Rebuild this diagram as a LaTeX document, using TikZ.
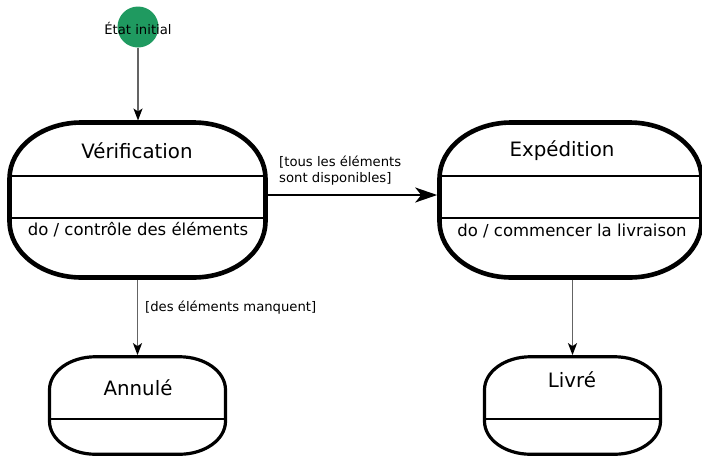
\documentclass[tikz,border=0pt]{standalone}
\usepackage{fontspec}
\setmainfont{DejaVu Sans}
\usetikzlibrary{arrows.meta}
\definecolor{initgreen}{RGB}{31,154,96}
\definecolor{flowgray}{RGB}{100,100,100}
% Border of a state: rectangle with elliptical corners (x radius #2, y radius #3)
\newcommand\stateborder[4]{%
  \draw[#4] ([xshift=#2]#1.north west) -- ([xshift=-#2]#1.north east)
    arc[start angle=90, end angle=0, x radius=#2, y radius=#3]
    -- ([yshift=#3]#1.south east)
    arc[start angle=0, end angle=-90, x radius=#2, y radius=#3]
    -- ([xshift=#2]#1.south west)
    arc[start angle=-90, end angle=-180, x radius=#2, y radius=#3]
    -- ([yshift=-#3]#1.north west)
    arc[start angle=180, end angle=90, x radius=#2, y radius=#3]
    -- cycle;}
\begin{document}
\begin{tikzpicture}[x=1pt,y=-1pt,
  statebox/.style={outer sep=0pt, inner sep=0pt},
  bigline/.style={line width=4.6pt},
  smallline/.style={line width=3.2pt},
  sep/.style={line width=1.5pt},
  title/.style={font=\fontsize{19.8}{23}\selectfont},
  activity/.style={font=\fontsize{16.5}{20}\selectfont},
  guard/.style={font=\fontsize{13.2}{16.5}\selectfont, align=left, anchor=west, inner sep=0pt},
  flow/.style={draw=flowgray, line width=1.8pt, -{Stealth[length=12pt,width=9pt,inset=3pt,fill=black,color=black]}},
  mainflow/.style={draw=black, line width=1.8pt, -{Stealth[length=22pt,width=15pt,inset=6pt]}}
]
\useasboundingbox (0,0) rectangle (702,456);
\clip (0,0) rectangle (702,456);

% initial pseudo-state
\node[circle, fill=initgreen, minimum size=41pt, inner sep=0pt, outer sep=0pt] (init) at (138,27) {};
\node[font=\fontsize{13.2}{16}\selectfont, inner sep=0pt] (initlabel) at (138,28) {État initial};

% compartment rows
\coordinate (r1) at (0,176);
\coordinate (r2) at (0,218);
\coordinate (r3) at (0,419);
\coordinate (hrow) at (0,195);

% Vérification
\node[statebox, minimum width=256pt, minimum height=155pt] (verif) at (137.5,200) {};
\stateborder{verif}{72pt}{56pt}{bigline}
\draw[sep] (verif.west |- r1) -- (verif.east |- r1);
\draw[sep] (verif.west |- r2) -- (verif.east |- r2);
\node[title] (veriftitle) at (137,151) {Vérification};
\node[activity] (verifdo) at (138,230) {do / contrôle des éléments};

% Expédition
\node[statebox, minimum width=262pt, minimum height=155pt] (exped) at (570.5,200) {};
\stateborder{exped}{72pt}{56pt}{bigline}
\draw[sep] (exped.west |- r1) -- (exped.east |- r1);
\draw[sep] (exped.west |- r2) -- (exped.east |- r2);
\node[title] (expedtitle) at (562,151) {Expédition};
\node[activity] (expeddo) at (572,231) {do / commencer la livraison};

% Annulé
\node[statebox, minimum width=176pt, minimum height=97.5pt] (annule) at (137.5,405.5) {};
\stateborder{annule}{46pt}{33pt}{smallline}
\draw[sep] (annule.west |- r3) -- (annule.east |- r3);
\node[title] (annuletitle) at (138,388) {Annulé};

% Livré
\node[statebox, minimum width=176pt, minimum height=97.5pt] (livre) at (572.5,405.5) {};
\stateborder{livre}{46pt}{33pt}{smallline}
\draw[sep] (livre.west |- r3) -- (livre.east |- r3);
\node[title] (livretitle) at (572,380) {Livré};

% transitions
\draw[flow] (init.south) -- ([yshift=2pt]init.south |- verif.north);
\draw[mainflow] ([xshift=2.3pt]verif.east |- hrow) -- ([xshift=-2.3pt]exped.west |- hrow);
\draw[flow] ([yshift=-2.3pt]verif.south) -- ([yshift=1.6pt]annule.north);
\draw[flow] ([yshift=-2.3pt]exped.south -| livre.north) -- ([yshift=1.6pt]livre.north);

% guards
\node[guard] (g1) at (279,170.5) {[tous les éléments\\sont disponibles]};
\node[guard] (g2) at (145,308) {[des éléments manquent]};
\end{tikzpicture}
\end{document}
